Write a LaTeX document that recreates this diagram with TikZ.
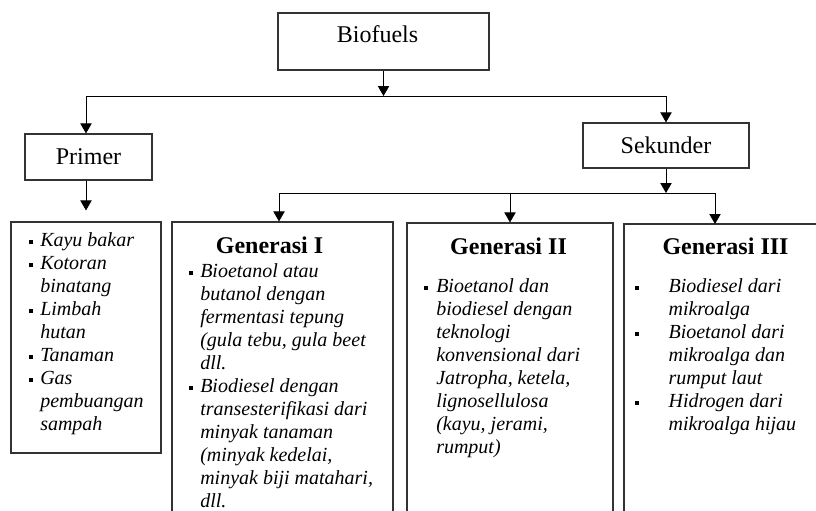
\documentclass[tikz,border=0pt]{standalone}
\usepackage{fontspec}
\setmainfont{Liberation Serif}
\usetikzlibrary{arrows.meta,positioning}
\newlength\px \setlength\px{0.75pt}
\newcommand\blt{\rule[1.8pt]{3pt}{3pt}}
\tikzset{
  hdbox/.style={draw=black!80, line width=0.9pt, inner sep=0pt, font=\fontsize{18}{21}\selectfont},
  listbox/.style={draw=black!80, line width=0.9pt, inner sep=0pt},
  conn/.style={line width=0.6pt, -{Triangle[length=7.5pt,width=8.5pt]}},
  lst/.style={inner sep=0pt, anchor=base west, font=\fontsize{15}{17.25}\selectfont\itshape},
  gen/.style={inner sep=0pt, anchor=base, font=\fontsize{18}{21}\selectfont\bfseries},
}
\begin{document}
\begin{tikzpicture}[x=0.75pt, y=-0.75pt]
\clip (0,0) rectangle (816,510);
% top level
\node[hdbox, minimum width=211\px, minimum height=57\px] (bio) at (383.5,41.5) {};
\node[inner sep=0pt, anchor=base, font=\fontsize{18}{21}\selectfont] (biotxt) at (377.5,43) {Biofuels};
\node[hdbox, minimum width=127\px, minimum height=46\px] (primer) at (88.5,157) {Primer};
\node[hdbox, minimum width=166\px, minimum height=45\px] (sek) at (666,145.5) {Sekunder};
% lower boxes
\node[listbox, minimum width=150\px, minimum height=231\px] (plist) at (86,337.5) {};
\node[listbox, minimum width=221\px, minimum height=308\px] (g1) at (282.5,376) {};
\node[listbox, minimum width=206\px, minimum height=307\px] (g2) at (510,376.5) {};
\node[listbox, minimum width=206\px, minimum height=306\px] (g3) at (727,377) {};
% connectors
\coordinate (bus1) at (383.5,96);
\coordinate (bus2) at (666,193);
\coordinate (g3in) at (715,224);
\draw[conn] (bio) -- (bus1);
\draw[conn] (bus1) -| (primer.north -| plist.north);
\draw[conn] (bus1) -| (sek.north);
\draw[conn, shorten >=8.25pt] (primer.south -| plist.north) -- (plist.north);
\draw[conn] (sek) -- (bus2);
\draw[conn] (bus2) -| ([xshift=-3.5\px]g1.north);
\draw[conn] (bus2) -| (g3in);
\draw[conn] (bus2 -| g2.north) -- (g2.north);
% headings
\node[gen] (g1h) at (269.5,253) {Generasi I};
\node[gen] (g2h) at (508.5,254) {Generasi II};
\node[gen] (g3h) at (725.5,254) {Generasi III};
% lists
\node[lst] (ptxt) at (28.5,246) {\begin{tabular}[t]{@{}p{11.5\px}@{}l@{}}
\blt & Kayu bakar\\
\blt & Kotoran\\
 & binatang\\
\blt & Limbah\\
 & hutan\\
\blt & Tanaman\\
\blt & Gas\\
 & pembuangan\\
 & sampah
\end{tabular}};
\node[lst] (g1txt) at (189,277) {\begin{tabular}[t]{@{}p{11\px}@{}l@{}}
\blt & Bioetanol atau\\
 & butanol dengan\\
 & fermentasi tepung\\
 & (gula tebu, gula beet\\
 & dll.\\
\blt & Biodiesel dengan\\
 & transesterifikasi dari\\
 & minyak tanaman\\
 & (minyak kedelai,\\
 & minyak biji matahari,\\
 & dll.
\end{tabular}};
\node[lst] (g2txt) at (424,292) {\begin{tabular}[t]{@{}p{12\px}@{}l@{}}
\blt & Bioetanol dan\\
 & biodiesel dengan\\
 & teknologi\\
 & konvensional dari\\
 & Jatropha, ketela,\\
 & lignosellulosa\\
 & (kayu, jerami,\\
 & rumput)
\end{tabular}};
\node[lst] (g3txt) at (634.3,292) {\begin{tabular}[t]{@{}p{34\px}@{}l@{}}
\blt & Biodiesel dari\\
 & mikroalga\\
\blt & Bioetanol dari\\
 & mikroalga dan\\
 & rumput laut\\
\blt & Hidrogen dari\\
 & mikroalga hijau
\end{tabular}};
\end{tikzpicture}
\end{document}
